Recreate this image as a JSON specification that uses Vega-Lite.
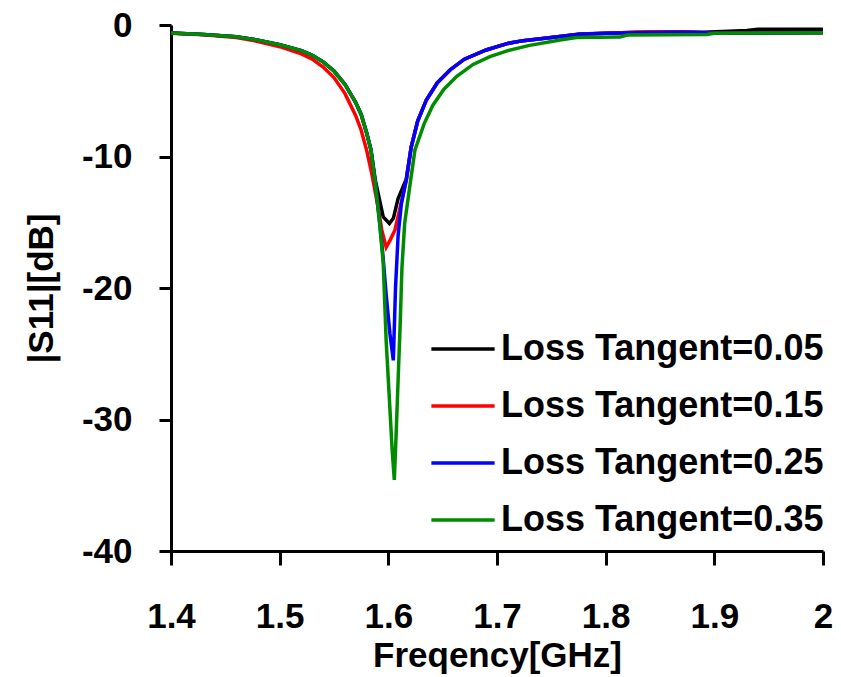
{
  "$schema": "https://vega.github.io/schema/vega-lite/v6.json",
  "width": 652,
  "height": 526,
  "autosize": {"type": "none"},
  "padding": {"left": 171, "top": 25, "right": 18, "bottom": 126},
  "background": "white",
  "config": {
    "view": {"stroke": null},
    "font": "Liberation Sans"
  },
  "datasets": {
    "black": [
      {"f":1.40,"db":-0.60},{"f":1.43,"db":-0.72},{"f":1.46,"db":-0.89},{"f":1.48,"db":-1.15},{"f":1.50,"db":-1.50},{"f":1.52,"db":-1.95},{"f":1.53,"db":-2.30},{"f":1.54,"db":-2.80},{"f":1.55,"db":-3.50},{"f":1.56,"db":-4.50},{"f":1.57,"db":-5.90},{"f":1.575,"db":-6.80},{"f":1.58,"db":-8.20},{"f":1.584,"db":-9.5},{"f":1.588,"db":-11.8},{"f":1.5953,"db":-14.6},{"f":1.601,"db":-15.1},{"f":1.6046,"db":-14.7},{"f":1.609,"db":-13.2},{"f":1.6166,"db":-11.7},{"f":1.621,"db":-9.3},{"f":1.627,"db":-7.3},{"f":1.635,"db":-5.7},{"f":1.645,"db":-4.4},{"f":1.657,"db":-3.4},{"f":1.67,"db":-2.6},{"f":1.69,"db":-1.9},{"f":1.71,"db":-1.4},{"f":1.724,"db":-1.19},{"f":1.75,"db":-0.95},{"f":1.776,"db":-0.68},{"f":1.80,"db":-0.62},{"f":1.83,"db":-0.55},{"f":1.89,"db":-0.55},{"f":1.93,"db":-0.42},{"f":1.94,"db":-0.33},{"f":2.0,"db":-0.33}
    ],
    "red": [
      {"f":1.40,"db":-0.62},{"f":1.43,"db":-0.75},{"f":1.46,"db":-0.95},{"f":1.48,"db":-1.25},{"f":1.50,"db":-1.65},{"f":1.52,"db":-2.2},{"f":1.53,"db":-2.6},{"f":1.54,"db":-3.2},{"f":1.55,"db":-4.0},{"f":1.56,"db":-5.2},{"f":1.57,"db":-6.9},{"f":1.575,"db":-8.0},{"f":1.58,"db":-9.5},{"f":1.585,"db":-11.4},{"f":1.59,"db":-13.6},{"f":1.594,"db":-15.6},{"f":1.598,"db":-16.9},{"f":1.602,"db":-16.3},{"f":1.606,"db":-15.6},{"f":1.61,"db":-14.2},{"f":1.6166,"db":-11.8},{"f":1.621,"db":-9.3},{"f":1.627,"db":-7.3},{"f":1.635,"db":-5.7},{"f":1.645,"db":-4.4},{"f":1.657,"db":-3.4},{"f":1.67,"db":-2.6},{"f":1.69,"db":-1.9},{"f":1.71,"db":-1.4},{"f":1.724,"db":-1.19},{"f":1.75,"db":-0.95},{"f":1.776,"db":-0.70},{"f":1.80,"db":-0.62},{"f":1.84,"db":-0.52},{"f":1.87,"db":-0.52},{"f":1.90,"db":-0.62},{"f":1.95,"db":-0.60},{"f":2.0,"db":-0.58}
    ],
    "blue": [
      {"f":1.40,"db":-0.60},{"f":1.43,"db":-0.72},{"f":1.46,"db":-0.89},{"f":1.48,"db":-1.15},{"f":1.50,"db":-1.50},{"f":1.52,"db":-1.95},{"f":1.53,"db":-2.30},{"f":1.54,"db":-2.80},{"f":1.55,"db":-3.50},{"f":1.56,"db":-4.50},{"f":1.57,"db":-5.90},{"f":1.575,"db":-6.80},{"f":1.58,"db":-8.20},{"f":1.584,"db":-9.5},{"f":1.588,"db":-12.0},{"f":1.592,"db":-15.0},{"f":1.595,"db":-17.5},{"f":1.598,"db":-20.5},{"f":1.6015,"db":-23.5},{"f":1.6046,"db":-25.5},{"f":1.6066,"db":-20.0},{"f":1.609,"db":-16.0},{"f":1.612,"db":-13.6},{"f":1.6166,"db":-11.7},{"f":1.621,"db":-9.3},{"f":1.627,"db":-7.3},{"f":1.635,"db":-5.7},{"f":1.645,"db":-4.4},{"f":1.657,"db":-3.4},{"f":1.67,"db":-2.6},{"f":1.69,"db":-1.9},{"f":1.71,"db":-1.4},{"f":1.724,"db":-1.19},{"f":1.75,"db":-0.95},{"f":1.776,"db":-0.70},{"f":1.80,"db":-0.62},{"f":1.86,"db":-0.55},{"f":1.88,"db":-0.55},{"f":1.90,"db":-0.62},{"f":1.95,"db":-0.60},{"f":2.0,"db":-0.58}
    ],
    "green": [
      {"f":1.40,"db":-0.60},{"f":1.43,"db":-0.72},{"f":1.46,"db":-0.89},{"f":1.48,"db":-1.15},{"f":1.50,"db":-1.50},{"f":1.52,"db":-1.95},{"f":1.53,"db":-2.30},{"f":1.54,"db":-2.80},{"f":1.55,"db":-3.50},{"f":1.56,"db":-4.50},{"f":1.57,"db":-5.90},{"f":1.575,"db":-6.80},{"f":1.58,"db":-8.20},{"f":1.584,"db":-9.5},{"f":1.588,"db":-12.0},{"f":1.592,"db":-15.1},{"f":1.5953,"db":-18.1},{"f":1.598,"db":-24.0},{"f":1.601,"db":-28.5},{"f":1.6035,"db":-32.3},{"f":1.6055,"db":-34.6},{"f":1.607,"db":-31.5},{"f":1.609,"db":-27.0},{"f":1.611,"db":-22.5},{"f":1.6125,"db":-18.5},{"f":1.615,"db":-15.1},{"f":1.6202,"db":-12.0},{"f":1.6245,"db":-9.5},{"f":1.633,"db":-7.5},{"f":1.641,"db":-6.1},{"f":1.651,"db":-4.9},{"f":1.663,"db":-3.9},{"f":1.678,"db":-3.0},{"f":1.6935,"db":-2.4},{"f":1.71,"db":-1.95},{"f":1.73,"db":-1.55},{"f":1.758,"db":-1.14},{"f":1.773,"db":-0.95},{"f":1.813,"db":-0.92},{"f":1.82,"db":-0.76},{"f":1.893,"db":-0.72},{"f":1.90,"db":-0.62},{"f":2.0,"db":-0.58}
    ]
  },
  "layer": [
    {"data": {"name": "black"}, "transform": [{"calculate": "'Loss Tangent=0.05'", "as": "s"}], "mark": {"type": "line", "strokeWidth": 3.5}, "encoding": {"x": {"field": "f", "type": "quantitative"}, "y": {"field": "db", "type": "quantitative"}, "color": {"field": "s", "type": "nominal"}}},
    {"data": {"name": "red"}, "transform": [{"calculate": "'Loss Tangent=0.15'", "as": "s"}], "mark": {"type": "line", "strokeWidth": 3.5}, "encoding": {"x": {"field": "f", "type": "quantitative"}, "y": {"field": "db", "type": "quantitative"}, "color": {"field": "s", "type": "nominal"}}},
    {"data": {"name": "blue"}, "transform": [{"calculate": "'Loss Tangent=0.25'", "as": "s"}], "mark": {"type": "line", "strokeWidth": 3.5}, "encoding": {"x": {"field": "f", "type": "quantitative"}, "y": {"field": "db", "type": "quantitative"}, "color": {"field": "s", "type": "nominal"}}},
    {"data": {"name": "green"}, "transform": [{"calculate": "'Loss Tangent=0.35'", "as": "s"}], "mark": {"type": "line", "strokeWidth": 3.5},
     "encoding": {
      "x": {"field": "f", "type": "quantitative",
        "scale": {"domain": [1.4, 2.0], "nice": false, "zero": false},
        "axis": {"title": "Freqency[GHz]", "values": [1.4,1.5,1.6,1.7,1.8,1.9,2.0], "format": "~g", "grid": false,
          "domainColor": "black", "domainWidth": 3, "tickColor": "black", "tickWidth": 3, "tickSize": 14,
          "labelFont": "Liberation Sans", "labelFontSize": 35, "labelFontWeight": "bold", "labelColor": "black", "labelPadding": 34, "labelFlush": false,
          "titleFont": "Liberation Sans", "titleFontSize": 35, "titleFontWeight": "bold", "titleColor": "black", "titlePadding": 4}},
      "y": {"field": "db", "type": "quantitative",
        "scale": {"domain": [-40, 0], "nice": false},
        "axis": {"title": "|S11|[dB]", "values": [-40,-30,-20,-10,0], "labelExpr": "datum.value + ''", "grid": false,
          "domainColor": "black", "domainWidth": 3, "tickColor": "black", "tickWidth": 3, "tickSize": 12,
          "labelFont": "Liberation Sans", "labelFontSize": 35, "labelFontWeight": "bold", "labelColor": "black", "labelPadding": 27,
          "titleFont": "Liberation Sans", "titleFontSize": 35, "titleFontWeight": "bold", "titleColor": "black", "titlePadding": 22}},
      "color": {"field": "s", "type": "nominal",
        "scale": {"domain": ["Loss Tangent=0.05","Loss Tangent=0.15","Loss Tangent=0.25","Loss Tangent=0.35"], "range": ["#000000","#ff0000","#0000ff","#008c00"]},
        "legend": {"title": null, "orient": "none", "legendX": 274, "legendY": 306, "padding": 0,
          "symbolType": "M-2,0H2", "symbolSize": 1000, "symbolStrokeWidth": 3.5,
          "labelFont": "Liberation Sans", "labelFontSize": 36, "labelFontWeight": "bold", "labelColor": "black", "labelLimit": 600, "labelOffset": 20,
          "rowPadding": 21}}
    }}
  ]
}
